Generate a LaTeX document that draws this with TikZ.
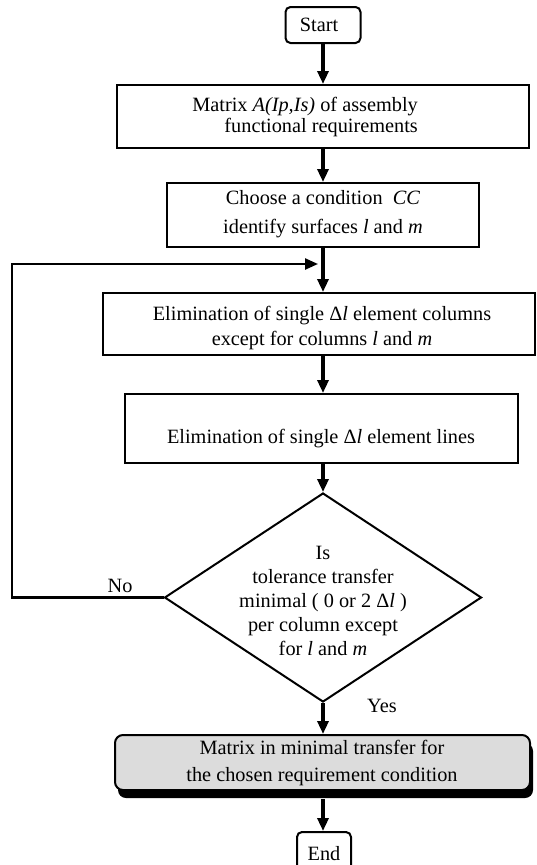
\documentclass[tikz,border=0pt]{standalone}
\usepackage{fontspec}
\setmainfont{Liberation Serif}
\usetikzlibrary{shapes.geometric,arrows.meta,shadows}
\newcommand\fsz[1]{\fontsize{20.3}{#1}\selectfont}
\definecolor{greyfill}{RGB}{220,220,220}
\begin{document}
\begin{tikzpicture}[x=1pt,y=-1pt,
  box/.style={draw,line width=2pt,inner sep=0pt},
  term/.style={draw,line width=2pt,rounded corners=5pt,inner sep=0pt,font=\fsz{24}},
  txt/.style={inner sep=0pt},
  arr/.style={line width=3.2pt,-{Triangle[length=13pt,width=11pt]}},
  loopline/.style={line width=2.4pt,-{Triangle[length=13pt,width=11pt]}},
  gbox/.style={draw,line width=2pt,rounded corners=8pt,fill=greyfill,inner sep=0pt,
    drop shadow={shadow xshift=3pt,shadow yshift=-8pt,fill=black,opacity=1}},
  lbl/.style={inner sep=0pt,font=\fsz{24}}
]
\useasboundingbox (0,0) rectangle (536,865);

% nodes
\node[term,minimum width=75pt,minimum height=36pt] (start) at (323,25) {\hspace*{-8pt}Start};

\node[box,minimum width=412pt,minimum height=63pt] (mat) at (323,116.5) {};
\node[txt,align=right,anchor=east,font=\fsz{21}] (mattxt) at (418,117.5)
  {Matrix \textit{A(Ip,Is)} of assembly\\functional requirements};

\node[box,minimum width=312pt,minimum height=64pt] (choose) at (323,215) {};
\node[txt,align=center,font=\fsz{29}] (choosetxt) at (323,214)
  {Choose a condition~ \textit{CC}\\identify surfaces \textit{l} and \textit{m}};

\node[box,minimum width=432pt,minimum height=62pt] (elimA) at (319,324) {};
\node[txt,align=center,font=\fsz{25}] (elimAtxt) at (322,328)
  {Elimination of single Δ\textit{l} element columns\\except for columns \textit{l} and \textit{m}};

\node[box,minimum width=393pt,minimum height=69pt] (elimB) at (321.5,428.5) {};
\node[txt,align=center,font=\fsz{24}] (elimBtxt) at (321,439)
  {Elimination of single Δ\textit{l} element lines};

\node[draw,line width=2pt,diamond,inner sep=0pt,minimum width=317pt,minimum height=209pt] (dia) at (323,597.5) {};
\node[txt,align=center,font=\fsz{24}] (diatxt) at (323,601)
  {Is\\tolerance transfer\\minimal ( 0 or 2 Δ\textit{l} )\\per column except\\for \textit{l} and \textit{m}};

\node[gbox,minimum width=415pt,minimum height=55pt] (res) at (322.5,762.5) {};
\node[txt,align=center,font=\fsz{27}] (restxt) at (322,763)
  {Matrix in minimal transfer for\\the chosen requirement condition};

\node[term,minimum width=54pt,minimum height=43pt] (end) at (324,853.5) {End};

\node[lbl] (no) at (120,586) {No};
\node[lbl] (yes) at (382,706) {Yes};

\coordinate (join) at (323,264);
\coordinate (lb) at (12,264);

% connectors
\draw[arr] (start.south) -- (start.south |- mat.north);
\draw[arr] (mat.south) -- (mat.south |- choose.north);
\draw[arr] (choose.south) -- (choose.south |- elimA.north);
\draw[arr] (join |- elimA.south) -- (join |- elimB.north);
\draw[arr] (join |- elimB.south) -- (dia.north);
\draw[arr] (dia.south) -- (dia.south |- res.north);
\draw[arr] ([yshift=-8pt]res.south -| join) -- (end.north -| join);
\draw[loopline] (dia.west) -| (lb) -- ([xshift=-5pt]join);
\end{tikzpicture}
\end{document}
